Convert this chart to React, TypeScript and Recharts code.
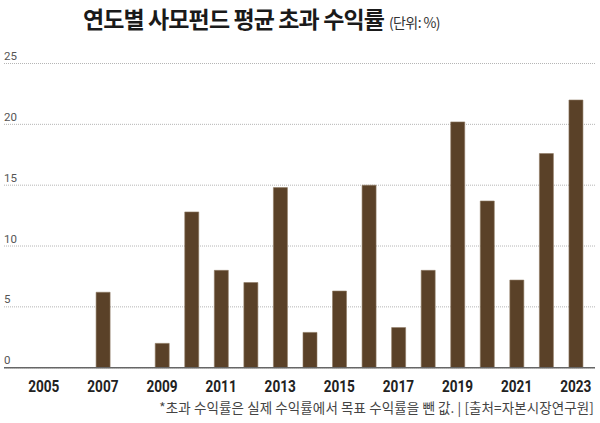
import React from 'react';
import { BarChart, Bar, XAxis, YAxis, CartesianGrid } from 'recharts';

const years = [
  '2005', '2006', '2007', '2008', '2009', '2010', '2011', '2012', '2013', '2014',
  '2015', '2016', '2017', '2018', '2019', '2020', '2021', '2022', '2023',
];
const excessReturns: (number | null)[] = [
  null, null, 6.2, null, 2.0, 12.8, 8.0, 7.0, 14.8, 2.9,
  6.3, 15.0, 3.3, 8.0, 20.2, 13.7, 7.2, 17.6, 22.0,
];
const yTicks = [0, 5, 10, 15, 20, 25];
const titleText = '연도별 사모펀드 평균 초과 수익률';
const unitText = '(단위: %)';
const noteText = '*초과 수익률은 실제 수익률에서 목표 수익률을 뺀 값. | [출처=자본시장연구원]';

const data = years.map((year, i) => ({ year, value: excessReturns[i] }));

const W = 600;
const H = 423;
const X_AXIS_H = 30;
const Y_AXIS_W = 4;
const M = { top: 63.5, right: 5, left: 0, bottom: 55.3 - X_AXIS_H };

const XTick = (props: any) => {
  const { x, y, payload } = props;
  return (
    <g transform={`translate(${x},${y})`}>
      <text
        transform="scale(0.8,1)"
        x={0}
        y={24}
        textAnchor="middle"
        fill="#222"
        fontFamily="Roboto, 'Noto Sans', sans-serif"
        fontWeight={700}
        fontSize={17}
      >
        {payload.value}
      </text>
    </g>
  );
};

const YTick = (props: any) => {
  const { y, payload } = props;
  return (
    <text
      x={Y_AXIS_W}
      y={y - 3.5}
      textAnchor="start"
      fill="#555"
      fontFamily="Roboto, 'Noto Sans', sans-serif"
      fontSize={11.5}
    >
      {payload.value}
    </text>
  );
};

export default function App() {
  return (
    <div style={{ position: 'absolute', left: 0, top: 0, width: W, height: H, background: '#fff' }}>
      <BarChart width={W} height={H} data={data} margin={M}>
        <CartesianGrid vertical={false} stroke="#b5b5b5" strokeDasharray="1 1" />
        <XAxis
          dataKey="year"
          height={X_AXIS_H}
          interval={1}
          tickLine={false}
          tickSize={0}
          tickMargin={0}
          padding={{ left: 25, right: 4.5 }}
          axisLine={{ stroke: '#666', strokeWidth: 1.5 }}
          tick={<XTick />}
        />
        <YAxis
          width={Y_AXIS_W}
          domain={[0, 25]}
          ticks={yTicks}
          axisLine={false}
          tickLine={false}
          tick={<YTick />}
        />
        <Bar
          dataKey="value"
          barSize={14}
          fill="#5A4128"
          stroke="#8E7A63"
          strokeWidth={0.6}
          isAnimationActive={false}
        />
      </BarChart>
      <svg
        width={W}
        height={H}
        style={{ position: 'absolute', left: 0, top: 0, pointerEvents: 'none' }}
      >
        <text
          x={83}
          y={27.5}
          fontFamily="'Noto Sans CJK KR', sans-serif"
          fontWeight={700}
          fontSize={23}
          letterSpacing={-0.9}
          fill="#1a1a1a"
        >
          {titleText}
          <tspan dx={5} fontSize={14} fontWeight={400} letterSpacing={-0.6} fill="#333">
            {unitText}
          </tspan>
        </text>
        <text
          x={594}
          y={413}
          textAnchor="end"
          fontFamily="'Noto Sans CJK KR', sans-serif"
          fontSize={13.5}
          letterSpacing={0.1}
          fill="#444"
        >
          {noteText}
        </text>
      </svg>
    </div>
  );
}
